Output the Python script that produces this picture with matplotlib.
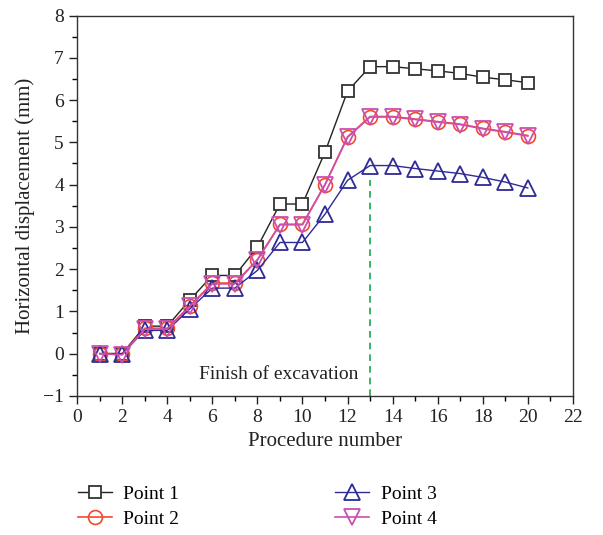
import matplotlib
matplotlib.use("Agg")
import matplotlib.pyplot as plt
from matplotlib.ticker import MultipleLocator

plt.rcParams['font.family'] = ['Liberation Serif', 'DejaVu Serif']
plt.rcParams['axes.unicode_minus'] = True

procedure = list(range(1, 21))
point1 = [0, 0, 0.65, 0.65, 1.27, 1.85, 1.85, 2.52, 3.54, 3.54,
          4.77, 6.21, 6.79, 6.79, 6.74, 6.69, 6.63, 6.54, 6.48, 6.41]
point2 = [0, 0, 0.6, 0.6, 1.13, 1.67, 1.67, 2.22, 3.06, 3.06,
          4.0, 5.13, 5.61, 5.61, 5.55, 5.49, 5.43, 5.33, 5.25, 5.16]
point3 = [0, 0, 0.55, 0.55, 1.06, 1.55, 1.55, 1.97, 2.63, 2.63,
          3.3, 4.1, 4.45, 4.45, 4.38, 4.32, 4.26, 4.17, 4.06, 3.92]
point4 = [0, -0.03, 0.58, 0.58, 1.12, 1.65, 1.65, 2.22, 3.05, 3.05,
          4.0, 5.12, 5.6, 5.6, 5.54, 5.48, 5.42, 5.32, 5.24, 5.15]
finish_step = 13
finish_top = 4.1

fig = plt.figure(figsize=(6.03, 5.35), dpi=100)
ax = fig.add_axes([0.128, 0.26, 0.822, 0.711])

l1, = ax.plot(procedure, point1, color='#222222', lw=1.0, marker='s', ms=8.5,
              mfc='white', mec='#333333', mew=1.3, label='Point 1')
l2, = ax.plot(procedure, point2, color='#f04a30', lw=1.2, marker='o', ms=10,
              mfc='none', mec='#f04a30', mew=1.2, label='Point 2')
l3, = ax.plot(procedure, point3, color='#2e2a96', lw=1.0, marker='^', ms=11.5,
              mfc='none', mec='#2e2a96', mew=1.3, label='Point 3')
l4, = ax.plot(procedure, point4, color='#cc4fb0', lw=1.2, marker='v', ms=11.5,
              mfc='none', mec='#cc4fb0', mew=1.3, label='Point 4')

ax.plot([finish_step, finish_step], [-1, finish_top], color='#1aa64a',
        lw=1.2, ls=(0, (4, 3)))
ax.text(12.5, -0.5, 'Finish of excavation', ha='right', va='center',
        fontsize=14, color='#222222')

ax.set_xlim(0, 22)
ax.set_ylim(-1, 8)
ax.xaxis.set_major_locator(MultipleLocator(2))
ax.xaxis.set_minor_locator(MultipleLocator(1))
ax.yaxis.set_major_locator(MultipleLocator(1))
ax.yaxis.set_minor_locator(MultipleLocator(0.5))
ax.tick_params(which='major', length=6, width=1, labelsize=14, colors='#222222')
ax.tick_params(which='minor', length=3.5, width=1)
for s in ax.spines.values():
    s.set_color('#333333')
    s.set_linewidth(1)

ax.set_xlabel('Procedure number', fontsize=15, color='#222222', labelpad=4)
ax.set_ylabel('Horizontal displacement (mm)', fontsize=15, color='#222222', labelpad=6)

fig.legend(handles=[l1, l2, l3, l4], loc='upper left', bbox_to_anchor=(0.1, 0.125),
           ncol=2, frameon=False, fontsize=14, handlelength=1.75,
           columnspacing=8.0, labelspacing=0.35, handletextpad=0.6)

fig.savefig('out.png', dpi=100)
